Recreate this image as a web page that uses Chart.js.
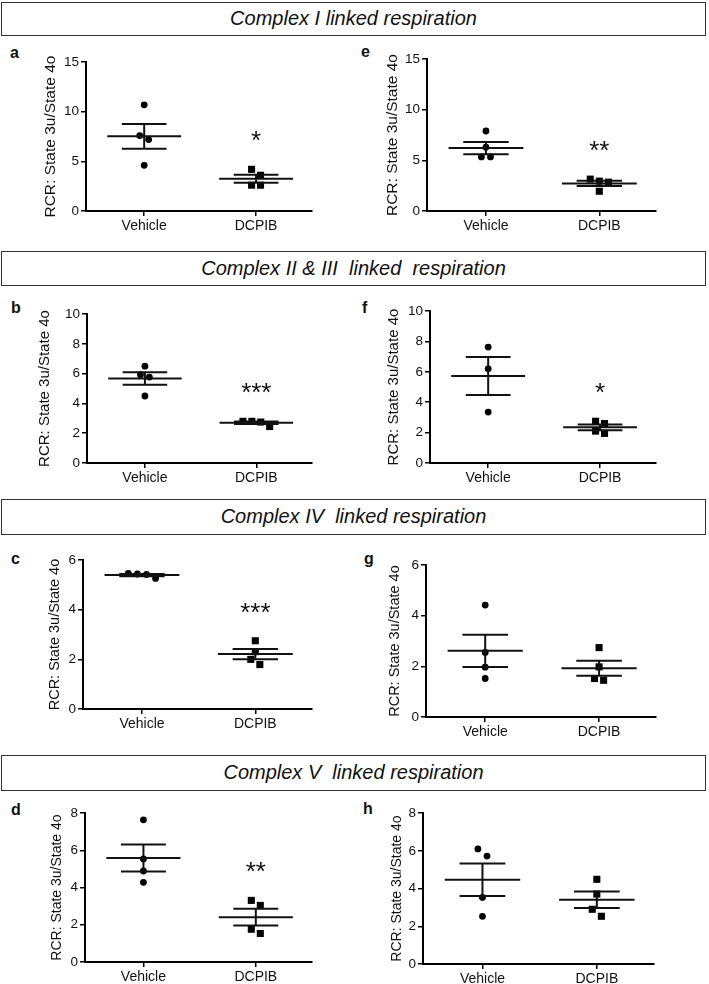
<!DOCTYPE html>
<html>
<head>
<meta charset="utf-8">
<script src="https://cdn.jsdelivr.net/npm/chart.js@4.4.1/dist/chart.umd.min.js"></script>
<style>
    body { margin: 0; background: #fff; width: 709px; height: 984px; position: relative; overflow: hidden; font-family: "Liberation Sans", Arial, sans-serif; }
    .header { position: absolute; left: 1px; width: 705px; border: 1.5px solid #333; box-sizing: border-box; text-align: center; font-style: italic; font-size: 20px; color: #111; white-space: pre; }
    .letter { position: absolute; font-weight: bold; font-size: 16px; line-height: 16px; color: #111; }
    canvas { position: absolute; }
</style>
</head>
<body>
<script>
// Groups and panel data (RCR values)
const groups = ['Vehicle', 'DCPIB'];
const panelIds = ['a', 'b', 'c', 'd', 'e', 'f', 'g', 'h'];

const vehicleA = [10.7, 7.6, 7.2, 4.6];
const dcpibA = [4.2, 3.6, 2.6, 2.6];
const vehicleB = [6.5, 5.93, 5.77, 4.5];
const dcpibB = [2.8, 2.8, 2.75, 2.45];
const vehicleC = [5.46, 5.44, 5.42, 5.26];
const dcpibC = [2.75, 2.31, 2.0, 1.79];
const vehicleD = [7.64, 5.54, 4.89, 4.28];
const dcpibD = [3.31, 3.04, 1.76, 1.53];
const vehicleE = [7.9, 6.3, 5.34, 5.34];
const dcpibE = [3.15, 2.95, 2.85, 1.95];
const vehicleF = [7.63, 6.2, 3.35];
const dcpibF = [2.75, 2.6, 2.1, 1.95];
const vehicleG = [4.42, 2.55, 1.97, 1.52];
const dcpibG = [2.74, 1.98, 1.52, 1.45];
const vehicleH = [6.1, 5.72, 3.53, 2.53];
const dcpibH = [4.49, 3.71, 2.9, 2.53];

// y axis ranges and significance marks per panel (a..h)
const yMax = [15, 10, 6, 8, 15, 10, 6, 8];
const yStep = [5, 2, 2, 2, 5, 2, 2, 2];
const sigLabels = ['*', '***', '***', '**', '**', '*', '', ''];

const headers = ['Complex I linked respiration', 'Complex II & III  linked  respiration',
    'Complex IV  linked respiration', 'Complex V  linked respiration'];
const yTitle = 'RCR: State 3u/State 4o';

const vehicleData = [vehicleA, vehicleB, vehicleC, vehicleD, vehicleE, vehicleF, vehicleG, vehicleH];
const dcpibData = [dcpibA, dcpibB, dcpibC, dcpibD, dcpibE, dcpibF, dcpibG, dcpibH];

// page layout of each panel's axes (pixels)
const layout = [
    { axisX: 86, top: 62, bottom: 211, right: 312, titleC: 50, titleSize: 15.5, lx: 10, lb: 58 },
    { axisX: 87, top: 314, bottom: 463, right: 312, titleC: 45, titleSize: 15, lx: 11, lb: 313 },
    { axisX: 83, top: 560, bottom: 709, right: 312, titleC: 55, titleSize: 14.5, lx: 11, lb: 564 },
    { axisX: 85, top: 813, bottom: 962, right: 312, titleC: 57, titleSize: 14, lx: 11, lb: 815 },
    { axisX: 427, top: 59, bottom: 211, right: 656, titleC: 392, titleSize: 15.5, lx: 361, lb: 57 },
    { axisX: 430, top: 311, bottom: 463, right: 656, titleC: 394, titleSize: 15, lx: 362, lb: 313 },
    { axisX: 426, top: 565, bottom: 717, right: 656, titleC: 395, titleSize: 14.5, lx: 364, lb: 564 },
    { axisX: 423, top: 813, bottom: 964, right: 654, titleC: 397, titleSize: 14, lx: 363, lb: 814 }
];
const headerBoxes = [{ top: 2, h: 34 }, { top: 251, h: 35 }, { top: 499, h: 36 }, { top: 755, h: 36 }];

// Mean and standard error
function stats(values) {
    const n = values.length;
    const mean = values.reduce((s, v) => s + v, 0) / n;
    const sd = Math.sqrt(values.reduce((s, v) => s + (v - mean) ** 2, 0) / (n - 1));
    return { mean, sem: sd / Math.sqrt(n) };
}

// Spread points that sit close together side by side (like a column scatter)
function spread(values, max, center) {
    const sorted = values.slice().sort((a, b) => b - a);
    const pts = [];
    let i = 0;
    while (i < sorted.length) {
        let j = i + 1;
        while (j < sorted.length && sorted[i] - sorted[j] < 0.05 * max) j++;
        const n = j - i;
        for (let k = 0; k < n; k++) {
            pts.push({ x: center + (k - (n - 1) / 2) * 0.08, y: sorted[i + k] });
        }
        i = j;
    }
    return pts;
}

function segment(x1, y1, x2, y2) {
    return {
        data: [{ x: x1, y: y1 }, { x: x2, y: y2 }],
        showLine: true, borderColor: '#111', borderWidth: 2,
        pointRadius: 0, pointHoverRadius: 0
    };
}

function errorBars(values, center) {
    const { mean, sem } = stats(values);
    return [
        segment(center - 0.33, mean, center + 0.33, mean),
        segment(center - 0.2, mean + sem, center + 0.2, mean + sem),
        segment(center - 0.2, mean - sem, center + 0.2, mean - sem),
        segment(center, mean - sem, center, mean + sem)
    ];
}

// Significance stars above the DCPIB column
const starPlugin = {
    id: 'stars',
    afterDatasetsDraw(chart, args, opts) {
        if (!opts.text) return;
        const { ctx, scales } = chart;
        const x = scales.x.getPixelForValue(2);
        const y = scales.y.getPixelForValue(opts.top) - 35;
        ctx.save();
        ctx.fillStyle = '#111';
        ctx.font = '26px "Liberation Sans", Arial, sans-serif';
        ctx.textAlign = 'center';
        ctx.textBaseline = 'alphabetic';
        ctx.fillText(opts.text, x, y + 15);
        ctx.restore();
    }
};

function createPanel(i) {
    const p = layout[i];
    const max = yMax[i];
    const lineH = p.titleSize * 1.2;
    const left = Math.round(p.titleC - lineH / 2);
    const padTop = 10, padRight = 6, xH = 34;
    const yW = p.axisX - left;
    const width = p.right - left + padRight;
    const height = padTop + (p.bottom - p.top) + xH;

    const canvas = document.createElement('canvas');
    canvas.style.left = left + 'px';
    canvas.style.top = (p.top - padTop) + 'px';
    canvas.style.width = width + 'px';
    canvas.style.height = height + 'px';
    canvas.width = width;
    canvas.height = height;
    document.body.appendChild(canvas);

    const veh = vehicleData[i];
    const dcp = dcpibData[i];

    const datasets = [
        ...errorBars(veh, 1),
        ...errorBars(dcp, 2),
        {
            data: spread(veh, max, 1), pointStyle: 'circle', pointRadius: 3.4,
            backgroundColor: '#000', borderWidth: 0
        },
        {
            data: spread(dcp, max, 2), pointStyle: 'rect', pointRadius: 5,
            backgroundColor: '#000', borderWidth: 0
        }
    ];

    const tickFont = { family: '"Liberation Sans", Arial, sans-serif', size: 13.5 };

    return new Chart(canvas, {
        type: 'scatter',
        data: { datasets },
        options: {
            responsive: false,
            animation: false,
            devicePixelRatio: 1,
            events: [],
            layout: { padding: { top: padTop, right: padRight, left: 0, bottom: 0 } },
            plugins: {
                legend: { display: false },
                tooltip: { enabled: false },
                stars: { text: sigLabels[i], top: Math.max(...dcp) }
            },
            scales: {
                x: {
                    type: 'linear', min: 0.48, max: 2.5,
                    afterBuildTicks: axis => { axis.ticks = [{ value: 1 }, { value: 2 }]; },
                    afterFit: axis => { axis.height = xH; },
                    ticks: {
                        color: '#111', padding: 2, maxRotation: 0,
                        font: { family: tickFont.family, size: 14 },
                        callback: v => groups[v - 1]
                    },
                    grid: { drawOnChartArea: false, drawTicks: true, tickLength: 5, color: '#000', lineWidth: 1.5 },
                    border: { display: true, color: '#000', width: 2 }
                },
                y: {
                    min: 0, max: max,
                    afterFit: axis => { axis.width = yW; },
                    ticks: { stepSize: yStep[i], color: '#111', padding: 2, font: tickFont },
                    grid: { drawOnChartArea: false, drawTicks: true, tickLength: 5, color: '#000', lineWidth: 1.5 },
                    border: { display: true, color: '#000', width: 2 },
                    title: {
                        display: true, text: yTitle, color: '#111', padding: 0,
                        font: { family: tickFont.family, size: p.titleSize, lineHeight: 1.2 }
                    }
                }
            }
        },
        plugins: [starPlugin]
    });
}

// section header boxes
headers.forEach((text, k) => {
    const box = document.createElement('div');
    box.className = 'header';
    box.style.top = headerBoxes[k].top + 'px';
    box.style.height = headerBoxes[k].h + 'px';
    box.style.lineHeight = (headerBoxes[k].h - 3) + 'px';
    box.textContent = text;
    document.body.appendChild(box);
});

// panel letters
panelIds.forEach((id, i) => {
    const el = document.createElement('div');
    el.className = 'letter';
    el.style.left = layout[i].lx + 'px';
    el.style.top = (layout[i].lb - 13.5) + 'px';
    el.textContent = id;
    document.body.appendChild(el);
});

panelIds.forEach((id, i) => createPanel(i));
</script>
</body>
</html>
